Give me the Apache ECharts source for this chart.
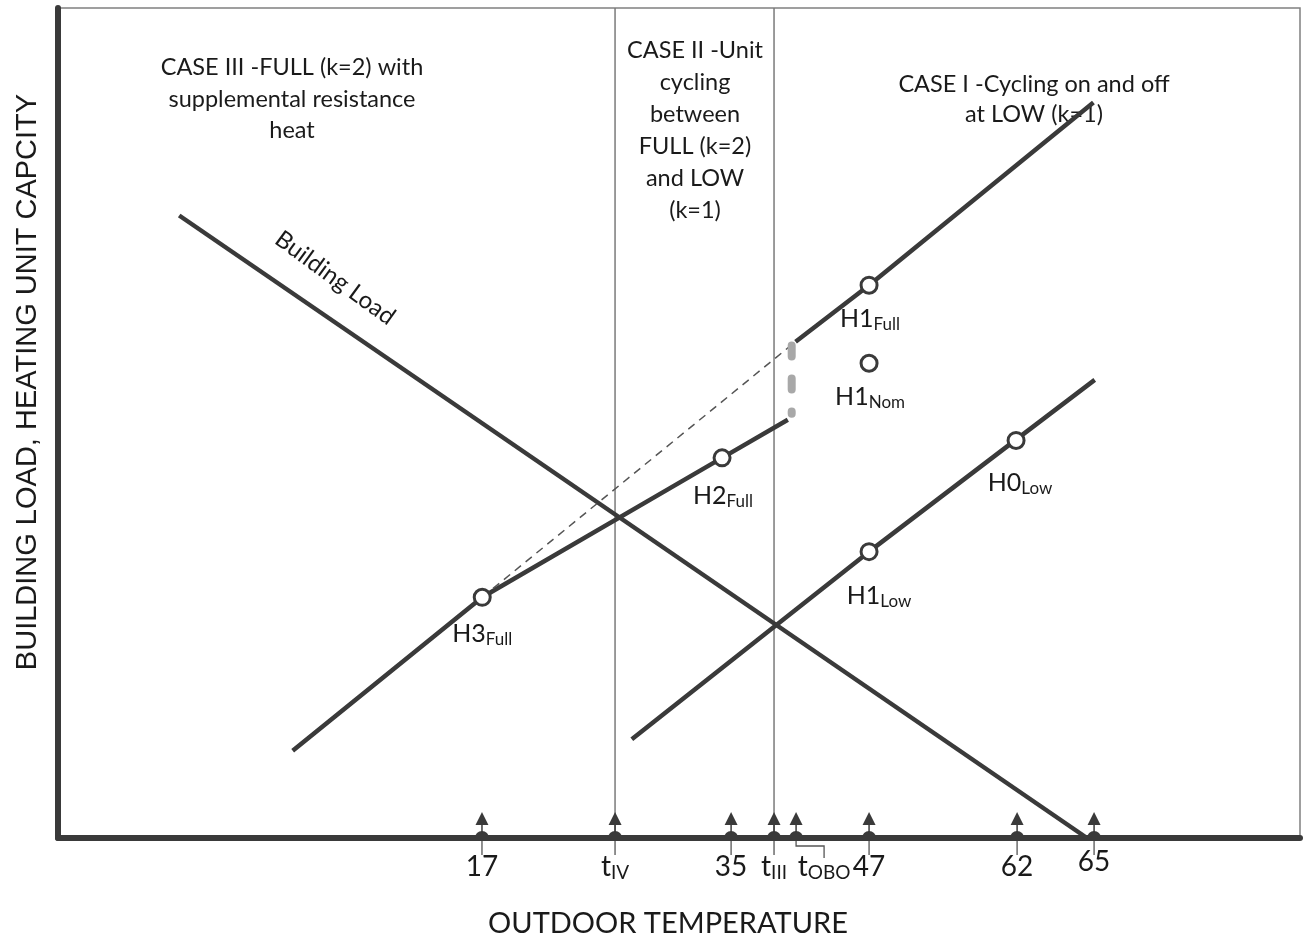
<!DOCTYPE html>
<html>
<head>
<meta charset="utf-8">
<script src="https://cdn.jsdelivr.net/npm/echarts@6/dist/echarts.min.js"></script>
<style>html,body{margin:0;padding:0;background:#fff}#c{width:1305px;height:940px}</style>
</head>
<body>
<div id="c"></div>
<script>
// ---- Data (schematic outdoor-temperature units on x, relative capacity/load 0-100 on y) ----
const tickValues = [16.98, 27.3, 36.3, 39.63, 41.34, 47.0, 58.48, 64.45];
const tickMain   = ['17', 't', '35', 't', 't', '47', '62', '65'];
const tickSub    = ['', 'IV', '', 'III', 'OBO', '', '', ''];

const boundaryTemps = [27.3, 39.63];            // t_IV and t_III vertical lines

const buildingLoad     = [[-6.5, 75.0], [63.9, 0.0]];
const fullCapacity     = [[2.3, 10.5], [17.0, 29.0], [35.6, 45.8], [40.7, 50.4]];
const fullExtrapolated = [[17.0, 29.0], [40.9, 59.3]];
const fullUpper        = [[41.3, 59.8], [47.0, 66.6], [64.4, 88.6]];
const lowCapacity      = [[28.6, 11.9], [47.0, 34.5], [58.4, 48.0], [64.5, 55.2]];
const cyclingGap       = [[41.0, 59.35], [41.0, 51.1]];

const pointMain = ['H1', 'H1', 'H2', 'H3', 'H1', 'H0'];
const pointSub  = ['Full', 'Nom', 'Full', 'Full', 'Low', 'Low'];
const pointX    = [47.0, 47.0, 35.6, 17.0, 47.0, 58.4];
const pointY    = [66.6, 57.2, 45.8, 29.0, 34.5, 47.9];

// ---- Styling ----
const FONT = 'Lato';
const INK = '#3a3a3a';
const TXT = '#1a1a1a';
const labelOffsets = [[1, 34], [1, 34], [1, 38], [0, 37], [10, 44], [4, 43]];

const chart = echarts.init(document.getElementById('c'), null, {renderer: 'canvas'});

function lineSeries(data, style, z) {
  return {
    type: 'line', data: data, showSymbol: false, symbol: 'none', silent: true,
    lineStyle: style, z: z || 2, animation: false
  };
}

const series = [];
boundaryTemps.forEach(t => {
  series.push(lineSeries([[t, 0], [t, 100]], {color: '#7a7a7a', width: 1.5}, 1));
});
series.push(lineSeries(buildingLoad, {color: INK, width: 4.5}));
series.push(lineSeries(fullCapacity, {color: INK, width: 4.5}));
series.push(lineSeries(fullExtrapolated, {color: '#555', width: 1.5, type: [8, 6]}));
series.push(lineSeries(fullUpper, {color: INK, width: 4.5}));
series.push(lineSeries(lowCapacity, {color: INK, width: 4.5}));
series.push(lineSeries(cyclingGap, {color: '#a8a8a8', width: 8, type: [11, 22], cap: 'round'}));

series.push({
  type: 'scatter', z: 4, silent: true, animation: false,
  symbol: 'circle', symbolSize: 16,
  itemStyle: {color: '#fff', borderColor: INK, borderWidth: 3, opacity: 1},
  data: pointX.map((x, i) => ({
    value: [x, pointY[i]],
    name: pointMain[i] + pointSub[i],
    label: {offset: labelOffsets[i]}
  })),
  label: {
    show: true, position: 'inside',
    formatter: p => '{m|' + pointMain[p.dataIndex] + '}{s|' + pointSub[p.dataIndex] + '}',
    rich: {
      m: {fontFamily: FONT, fontSize: 25, lineHeight: 28, color: TXT},
      s: {fontFamily: FONT, fontSize: 17, lineHeight: 14, verticalAlign: 'bottom', color: TXT}
    }
  }
});

series.push({
  type: 'custom', z: 5, silent: true, clip: false, animation: false,
  data: tickValues.map(v => [v, 0]),
  renderItem: (params, api) => {
    const i = params.dataIndex;
    const p = api.coord([api.value(0), 0]);
    const x = p[0], y = p[1];
    const children = [
      {type: 'sector', shape: {cx: x, cy: y, r: 7, r0: 0, startAngle: Math.PI, endAngle: 2 * Math.PI}, style: {fill: INK}},
      {type: 'line', shape: {x1: x, y1: y - 4, x2: x, y2: y - 16}, style: {stroke: INK, lineWidth: 1.5}},
      {type: 'polygon', shape: {points: [[x, y - 26], [x - 6.5, y - 13], [x + 6.5, y - 13]]}, style: {fill: INK}}
    ];
    if (tickSub[i] === 'OBO') {
      children.push({type: 'polyline', shape: {points: [[x, y + 3], [x, y + 8], [x + 28, y + 8], [x + 28, y + 20]]}, style: {stroke: '#555', lineWidth: 1.3, fill: 'none'}});
    } else {
      children.push({type: 'line', shape: {x1: x, y1: y + 3, x2: x, y2: y + 17}, style: {stroke: '#555', lineWidth: 1.3}});
    }
    return {type: 'group', children: children};
  }
});

const option = {
  backgroundColor: '#fff',
  animation: false,
  grid: {left: 58, right: 5, top: 8, bottom: 102, show: true, borderColor: '#808080', borderWidth: 1.5, containLabel: false},
  xAxis: {
    type: 'value', min: -15.9, max: 80.42,
    axisLine: {show: true, onZero: false, lineStyle: {color: INK, width: 6}},
    axisTick: {show: false},
    splitLine: {show: false},
    axisLabel: {
      customValues: tickValues, margin: 14, color: TXT,
      formatter: (v) => {
        let i = tickValues.findIndex(t => Math.abs(t - v) < 1e-6);
        if (i < 0) return '';
        if (tickMain[i] === '65') return '{up|65}';
        if (tickSub[i] === 'OBO') return '{gap|}{m|t}{s|OBO}';
        return '{m|' + tickMain[i] + '}' + (tickSub[i] ? '{s|' + tickSub[i] + '}' : '');
      },
      rich: {
        m: {fontFamily: FONT, fontSize: 28, lineHeight: 30, color: TXT},
        up: {fontFamily: FONT, fontSize: 28, lineHeight: 20, color: TXT},
        s: {fontFamily: FONT, fontSize: 19, lineHeight: 14, verticalAlign: 'bottom', color: TXT},
        gap: {width: 56, height: 10}
      }
    }
  },
  yAxis: {
    type: 'value', min: 0, max: 100,
    axisLine: {show: true, onZero: false, lineStyle: {color: INK, width: 6}},
    axisTick: {show: false}, axisLabel: {show: false}, splitLine: {show: false}
  },
  graphic: [
    {type: 'text', x: 292, y: 52, silent: true, style: {text: 'CASE III -FULL (k=2) with\nsupplemental resistance\nheat', fontFamily: FONT, fontSize: 23.5, lineHeight: 31.5, fill: TXT, align: 'center', verticalAlign: 'top'}},
    {type: 'text', x: 695, y: 34, silent: true, style: {text: 'CASE II -Unit\ncycling\nbetween\nFULL (k=2)\nand LOW\n(k=1)', fontFamily: FONT, fontSize: 23.5, lineHeight: 32, fill: TXT, align: 'center', verticalAlign: 'top'}},
    {type: 'text', x: 1034, y: 69, silent: true, style: {text: 'CASE I -Cycling on and off\nat LOW (k=1)', fontFamily: FONT, fontSize: 23.5, lineHeight: 30, fill: TXT, align: 'center', verticalAlign: 'top'}},
    {type: 'text', x: 335, y: 278, rotation: -36 * Math.PI / 180, silent: true, style: {text: 'Building Load', fontFamily: FONT, fontSize: 24, fill: TXT, align: 'center', verticalAlign: 'middle'}},
    {type: 'text', x: 28, y: 382, rotation: Math.PI / 2, silent: true, style: {text: 'BUILDING LOAD, HEATING UNIT CAPCITY', fontFamily: '"Liberation Sans", Arial', fontSize: 29, fill: TXT, align: 'center', verticalAlign: 'middle'}},
    {type: 'text', x: 668, y: 924, silent: true, style: {text: 'OUTDOOR TEMPERATURE', fontFamily: FONT, fontSize: 29, fill: TXT, align: 'center', verticalAlign: 'middle'}}
  ],
  series: series
};
chart.setOption(option);
</script>
</body>
</html>
